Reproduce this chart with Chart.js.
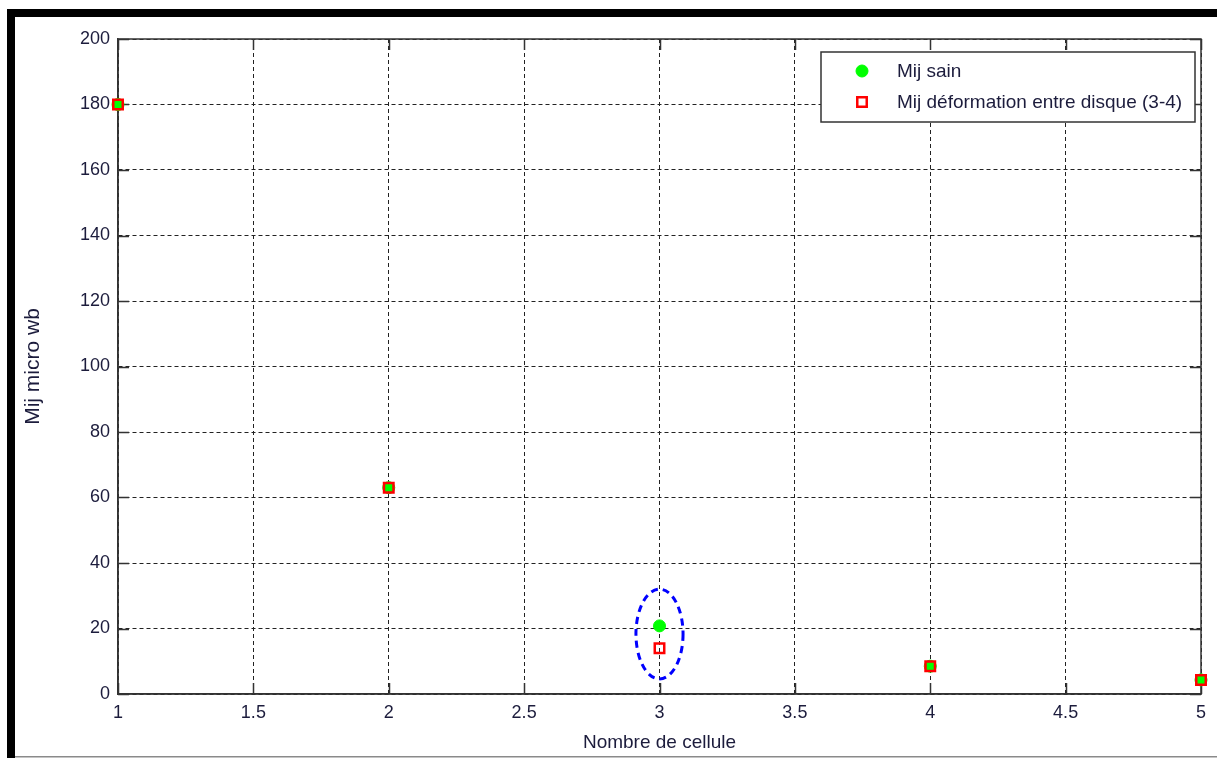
<!DOCTYPE html>
<html>
<head>
<meta charset="utf-8">
<script src="https://cdn.jsdelivr.net/npm/chart.js@4.4.1/dist/chart.umd.min.js"></script>
<style>
  html, body { margin: 0; padding: 0; background: #fff; overflow: hidden; }
  #wrap { width: 1217px; height: 758px; position: relative; }
</style>
</head>
<body>
<div id="wrap"><canvas id="c" width="1217" height="758"></canvas></div>
<script>
// Cell numbers and mutual flux values (micro Wb)
const cells = [1, 2, 3, 4, 5];
const mijSain = [180, 63, 20.8, 8.5, 4.3];
const mijDeformation = [180, 63, 14.0, 8.5, 4.3];
const seriesLabels = ['Mij sain', 'Mij déformation entre disque (3-4)'];
const xTickValues = [1, 1.5, 2, 2.5, 3, 3.5, 4, 4.5, 5];
const yTickValues = [0, 20, 40, 60, 80, 100, 120, 140, 160, 180, 200];

// Dashed ellipse circling cell 3 (data units)
const highlightCenter = [3, 18.3];
const highlightRadii = [0.087, 13.7];

const TEXT = '#1c1c3c';
const LABEL_FONT = "'Liberation Sans', Arial, sans-serif";
const TICK_FONT = { family: LABEL_FONT, size: 18, lineHeight: 1.2 };

const toPoints = (ys) => cells.map((x, i) => ({ x, y: ys[i] }));

// Outer window frame and white background
const framePlugin = {
  id: 'frame',
  beforeDraw(chart) {
    const { ctx, width, height } = chart;
    ctx.save();
    ctx.fillStyle = '#fff';
    ctx.fillRect(0, 0, width, height);
    ctx.fillStyle = '#000';
    ctx.fillRect(7, 9, width - 7, 8);
    ctx.fillRect(7, 9, 8, height - 9);
    ctx.fillStyle = '#8a8a8a';
    ctx.fillRect(15, height - 2, width - 15, 1.5);
    ctx.restore();
  }
};

// Solid plot box with inward tick marks on all four sides
const boxPlugin = {
  id: 'box',
  beforeDatasetsDraw(chart) {
    const { ctx, chartArea: a, scales: { x, y } } = chart;
    const len = 11;
    ctx.save();
    ctx.strokeStyle = '#333';
    ctx.lineWidth = 1.5;
    ctx.setLineDash([]);
    ctx.strokeRect(a.left, a.top, a.right - a.left, a.bottom - a.top);
    ctx.beginPath();
    x.ticks.forEach(t => {
      const px = Math.round(x.getPixelForValue(t.value)) + 0.5;
      ctx.moveTo(px, a.bottom); ctx.lineTo(px, a.bottom - len);
      ctx.moveTo(px, a.top); ctx.lineTo(px, a.top + len);
    });
    y.ticks.forEach(t => {
      const py = Math.round(y.getPixelForValue(t.value)) + 0.5;
      ctx.moveTo(a.left, py); ctx.lineTo(a.left + len, py);
      ctx.moveTo(a.right, py); ctx.lineTo(a.right - len, py);
    });
    ctx.stroke();
    ctx.restore();
  }
};

// Dashed blue ellipse around cell 3, plus the boxed legend
const overlayPlugin = {
  id: 'overlay',
  afterDatasetsDraw(chart) {
    const { ctx, scales: { x, y } } = chart;
    ctx.save();
    const cx = x.getPixelForValue(highlightCenter[0]);
    const cy = y.getPixelForValue(highlightCenter[1]);
    const rx = Math.abs(x.getPixelForValue(highlightCenter[0] + highlightRadii[0]) - cx);
    const ry = Math.abs(y.getPixelForValue(highlightCenter[1] + highlightRadii[1]) - cy);
    ctx.strokeStyle = '#0000ff';
    ctx.lineWidth = 3;
    ctx.setLineDash([7, 5]);
    ctx.beginPath();
    ctx.ellipse(cx, cy, rx, ry, 0, 0, Math.PI * 2);
    ctx.stroke();
    ctx.restore();

    // Legend box
    const bx = 821, by = 52, bw = 374, bh = 70;
    ctx.save();
    ctx.fillStyle = '#fff';
    ctx.fillRect(bx, by, bw, bh);
    ctx.strokeStyle = '#333';
    ctx.lineWidth = 1.5;
    ctx.strokeRect(bx, by, bw, bh);
    const rows = [by + 19, by + 50];
    chart.data.datasets.forEach((ds, i) => {
      ctx.save();
      ctx.fillStyle = ds.backgroundColor;
      ctx.strokeStyle = ds.borderColor;
      ctx.lineWidth = ds.borderWidth;
      Chart.helpers.drawPoint(ctx, { pointStyle: ds.pointStyle, radius: ds.pointRadius, borderWidth: ds.borderWidth, rotation: 0 }, 862, rows[i]);
      ctx.restore();
      ctx.fillStyle = TEXT;
      ctx.font = `19px ${LABEL_FONT}`;
      ctx.textBaseline = 'middle';
      ctx.textAlign = 'left';
      ctx.fillText(ds.label, 897, rows[i] + 1);
    });
    ctx.restore();
  }
};

new Chart(document.getElementById('c'), {
  type: 'scatter',
  data: {
    datasets: [
      {
        label: seriesLabels[0],
        data: toPoints(mijSain),
        order: 1,
        pointStyle: 'circle',
        pointRadius: 6,
        pointHoverRadius: 6,
        borderWidth: 1,
        backgroundColor: '#00ff00',
        borderColor: '#00ff00',
        showLine: false,
        clip: false
      },
      {
        label: seriesLabels[1],
        data: toPoints(mijDeformation),
        order: 0,
        pointStyle: 'rect',
        pointRadius: 6.7,
        pointHoverRadius: 6.7,
        borderWidth: 2.5,
        backgroundColor: 'rgba(0,0,0,0)',
        borderColor: '#ff0000',
        showLine: false,
        clip: false
      }
    ]
  },
  options: {
    responsive: false,
    animation: false,
    devicePixelRatio: 1,
    layout: { padding: { top: 39, right: 16, left: 0, bottom: 0 } },
    plugins: {
      legend: { display: false },
      tooltip: { enabled: false }
    },
    scales: {
      x: {
        type: 'linear',
        min: 1,
        max: 5,
        afterBuildTicks: s => { s.ticks = xTickValues.map(v => ({ value: v })); },
        afterFit: s => { s.height = 64; },
        ticks: { color: TEXT, font: TICK_FONT, padding: 8, maxRotation: 0, callback: v => String(v) },
        grid: { color: '#222', lineWidth: 1, drawTicks: false },
        border: { display: true, color: '#333', width: 1.5, dash: [4, 3] },
        title: { display: true, text: 'Nombre de cellule', color: TEXT, font: { family: LABEL_FONT, size: 19, lineHeight: 1.2 }, padding: { top: 0, bottom: 4 } }
      },
      y: {
        type: 'linear',
        min: 0,
        max: 200,
        afterBuildTicks: s => { s.ticks = yTickValues.map(v => ({ value: v })); },
        afterFit: s => { s.width = 118; },
        ticks: { color: TEXT, font: TICK_FONT, padding: 8, callback: v => String(v) },
        grid: { color: '#222', lineWidth: 1, drawTicks: false },
        border: { display: true, color: '#333', width: 1.5, dash: [4, 3] },
        title: { display: true, text: 'Mij micro wb', color: TEXT, font: { family: LABEL_FONT, size: 21, lineHeight: 1.2 }, padding: { top: 21, bottom: 0 } }
      }
    }
  },
  plugins: [framePlugin, boxPlugin, overlayPlugin]
});
</script>
</body>
</html>
